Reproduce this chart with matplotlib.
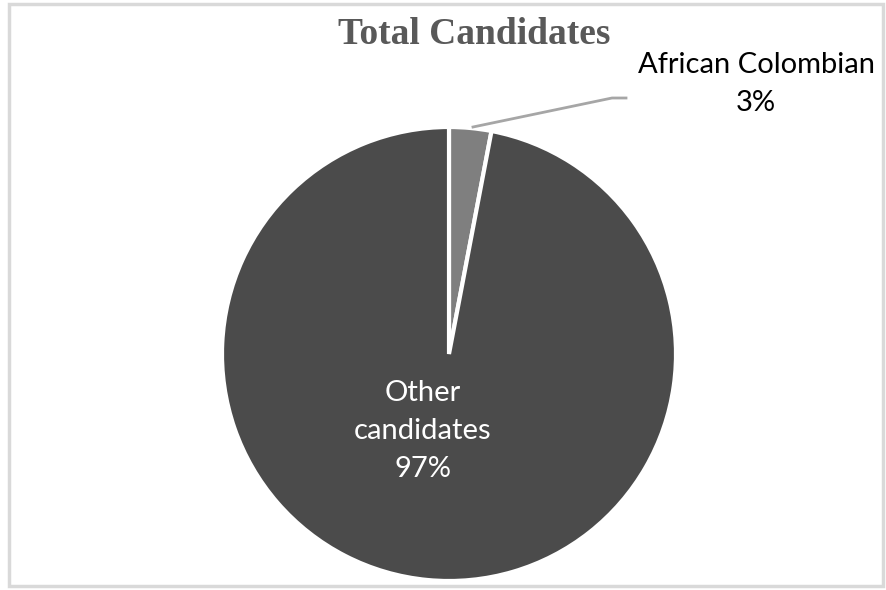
import matplotlib
matplotlib.use("Agg")
import matplotlib.pyplot as plt
from matplotlib.patches import Rectangle

# Data
groups = ["African Colombian", "Other candidates"]
shares = [3, 97]
colors = ["#7f7f7f", "#4b4b4b"]

W, H = 886, 590
fig = plt.figure(figsize=(W / 100, H / 100), dpi=100)

# light grey frame around the chart area
fig.patches.append(Rectangle((9 / W, 4 / H), 874 / W, 582 / H, transform=fig.transFigure,
                             fill=False, edgecolor="#d9d9d9", linewidth=2.5))

# pie: centre ~(449, 354) px, radius ~226 px
cx, cy, r = 449, 354, 227
ax = fig.add_axes([(cx - r) / W, (H - cy - r) / H, 2 * r / W, 2 * r / H])
wedges, _ = ax.pie(shares, colors=colors, startangle=90, counterclock=False,
                   wedgeprops=dict(edgecolor="white", linewidth=3))
ax.set_xlim(-1, 1)
ax.set_ylim(-1, 1)
ax.axis("off")

lab_font = ["Lato", "DejaVu Sans"]

def px(x, y):
    return x / W, 1 - y / H

# title
fig.text(*px(474, 34), "Total Candidates", ha="center", va="center",
         family="Liberation Serif", fontweight="bold", fontsize=27, color="#595959")

# inside label for the big slice
fig.text(*px(423, 431), f"Other\ncandidates\n{shares[1]}%", ha="center", va="center",
         family=lab_font, fontsize=21, color="white", linespacing=1.55)

# outside label with leader line for the small slice
fig.text(*px(756, 84), f"{groups[0]}\n{shares[0]}%", ha="center", va="center",
         family=lab_font, fontsize=21, color="black", linespacing=1.6)
fig.add_artist(plt.Line2D([473 / W, 612 / W, 626 / W], [1 - 127 / H, 1 - 98 / H, 1 - 98 / H],
                          transform=fig.transFigure, color="#a6a6a6", linewidth=2))

fig.savefig("out.png", dpi=100)
